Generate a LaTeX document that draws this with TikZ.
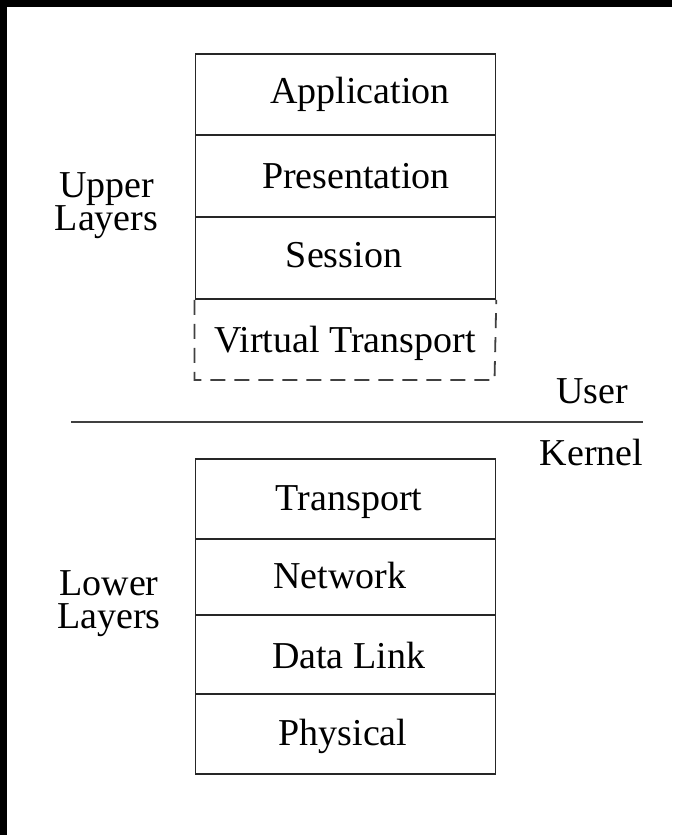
\documentclass[tikz,border=0pt]{standalone}
\usepackage{fontspec}
\setmainfont{Liberation Serif}
\begin{document}
\begin{tikzpicture}[x=1pt,y=-1pt,
  layerbox/.style={draw=black!85, line width=1.8pt, rectangle, minimum width=300pt, inner sep=0pt, anchor=north west},
  lbl/.style={inner sep=0pt, anchor=base, font=\fontsize{38}{33}\selectfont},
  caption/.style={lbl, align=center},
  rule/.style={draw=black!75, line width=2pt},
  dashbox/.style={draw=black!75, line width=1.8pt, dash pattern=on 15pt off 9pt}]
  \useasboundingbox (0,0) rectangle (672,835);
  % dark edge strips along the top and left
  \fill[black] (0,0) rectangle (672,7);
  \fill[black] (0,0) rectangle (7,835);

  % upper layers stack
  \node[layerbox, minimum height=81pt] (app) at (194.5,53) {};
  \node[layerbox, minimum height=82pt] (pres) at (194.5,134) {};
  \node[layerbox, minimum height=82pt] (sess) at (194.5,216) {};
  \node[lbl] (tapp) at (360,103) {Application};
  \node[lbl] (tpres) at (356,188) {Presentation};
  \node[lbl] (tsess) at (344,267) {Session};

  % virtual transport (dashed, open at the top)
  \coordinate (vtl) at (sess.south west);
  \coordinate (vtr) at (sess.south east);
  \coordinate (vbl) at (194.5,380);
  \coordinate (vbr) at (494.5,380);
  \draw[dashbox] (vtl) -- (vbl) -- (vbr) -- (vtr);
  \node[lbl] (tvt) at (345,352) {Virtual Transport};

  % user / kernel boundary
  \coordinate (ruleL) at (71,421.5);
  \coordinate (ruleR) at (643,421.5);
  \draw[rule] (ruleL) -- (ruleR);
  \node[lbl] (tuser) at (592,403) {User};
  \node[lbl] (tkernel) at (591.5,465) {Kernel};

  % lower layers stack
  \node[layerbox, minimum height=80pt] (trans) at (194.5,458) {};
  \node[layerbox, minimum height=76pt] (net) at (194.5,538) {};
  \node[layerbox, minimum height=79pt] (dl) at (194.5,614) {};
  \node[layerbox, minimum height=80pt] (phys) at (194.5,693) {};
  \node[lbl] (ttrans) at (349,510) {Transport};
  \node[lbl] (tnet) at (340,588) {Network};
  \node[lbl] (tdl) at (348.5,668) {Data Link};
  \node[lbl] (tphys) at (343,745) {Physical};

  % side captions (anchored at the baseline of their last line)
  \node[caption] (upper) at (106.5,230) {Upper\\Layers};
  \node[caption] (lower) at (109,628) {Lower\\Layers};
\end{tikzpicture}
\end{document}
